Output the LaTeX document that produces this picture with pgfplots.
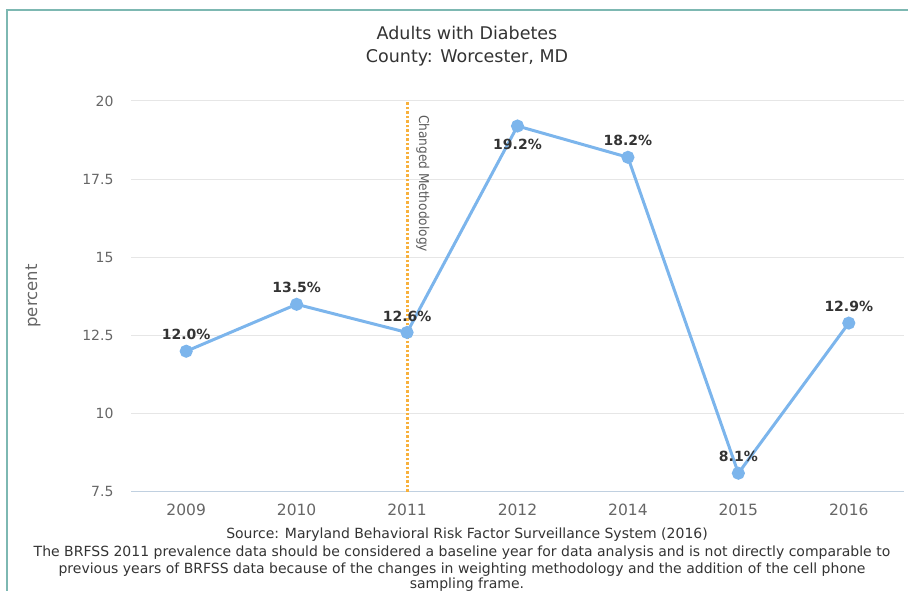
\documentclass[border=0pt]{standalone}
\usepackage{fontspec}
\setmainfont{DejaVu Sans}
\newfontfamily\condfont{DejaVu Sans Condensed}
\usepackage{pgfplots}
\pgfplotsset{compat=1.18}
\definecolor{hcblue}{HTML}{7CB5EC}
\definecolor{axisc}{HTML}{C0D0E0}
\definecolor{gridc}{HTML}{E6E6E6}
\definecolor{tickc}{HTML}{666666}
\definecolor{titlec}{HTML}{333333}
\definecolor{methc}{HTML}{F8B13C}
\definecolor{framec}{HTML}{7DB8B2}
\begin{document}
\begin{tikzpicture}[x=1pt,y=1pt]
\useasboundingbox (0,0) rectangle (908,591);
\clip (0,0) rectangle (908,591);
\draw[framec, line width=1.5pt] (7,-2) -- (7,581) -- (910,581);
\begin{axis}[
  at={(131pt,99pt)}, anchor=south west,
  scale only axis, width=773pt, height=391pt,
  xmin=-0.5, xmax=6.5, ymin=7.5, ymax=20,
  axis x line*=bottom, axis y line*=left,
  x axis line style={axisc, line width=1pt},
  y axis line style={draw=none},
  xtick={0,1,2,3,4,5,6},
  xticklabels={2009,2010,2011,2012,2014,2015,2016},
  x tick style={draw=none},
  extra x ticks={-0.5,0.5,1.5,2.5,3.5,4.5,5.5},
  extra x tick labels={},
  extra x tick style={tick align=outside, major tick length=14pt, tick style={draw=axisc, line width=1pt}},
  ytick={7.5,10,12.5,15,17.5,20},
  yticklabels={7.5,10,12.5,15,17.5,20},
  ymajorgrids, grid style={gridc, line width=1pt},
  y tick style={draw=none},
  xticklabel style={font=\fontsize{15.5}{17}\selectfont, text=tickc, yshift=-8pt},
  yticklabel style={font=\fontsize{14}{16}\selectfont, text=tickc, xshift=-14pt},
  clip=false,
]
\addplot[methc, line width=3pt, dash pattern=on 2.5pt off 2pt] coordinates {(2,7.5) (2,20)};
\addplot[hcblue, line width=3pt, mark=*, mark size=5pt, mark options={fill=hcblue, draw=hcblue}]
  coordinates {(0,12.0) (1,13.5) (2,12.6) (3,19.2) (4,18.2) (5,8.1) (6,12.9)};
\addplot[draw=none, point meta=y, nodes near coords={\pgfmathprintnumber[fixed,fixed zerofill,precision=1,assume math mode=true]{\pgfplotspointmeta}\%},
  every node near coord/.style={anchor=south, inner sep=0pt, yshift=11pt, font=\bfseries\fontsize{14}{16}\selectfont, text=titlec}]
  coordinates {(0,12.0) (1,13.5) (2,12.6) (4,18.2) (5,8.1) (6,12.9)};
\addplot[draw=none, point meta=y, nodes near coords={\pgfmathprintnumber[fixed,fixed zerofill,precision=1,assume math mode=true]{\pgfplotspointmeta}\%},
  every node near coord/.style={anchor=north, inner sep=0pt, yshift=-13pt, font=\bfseries\fontsize{14}{16}\selectfont, text=titlec}]
  coordinates {(3,19.2)};
\node[xshift=9pt, yshift=-14pt, rotate=-90, anchor=south west, inner sep=0pt, font=\condfont\fontsize{13.5}{15}\selectfont, text=titlec!80] at (axis cs:2,20) {Changed Methodology};
\end{axis}
\node[font=\fontsize{17.5}{19}\selectfont, text=titlec] at (467,558) {Adults with Diabetes};
\node[font=\fontsize{17.5}{19}\selectfont, text=titlec] at (467,533) {County: Worcester, MD};
\node[rotate=90, font=\fontsize{16.5}{18}\selectfont, text=tickc] at (33,295) {percent};
\node[font=\fontsize{14}{16}\selectfont, text=titlec] at (467,56) {Source: Maryland Behavioral Risk Factor Surveillance System (2016)};
\node[font=\fontsize{14}{16}\selectfont, text=titlec] at (462,38) {The BRFSS 2011 prevalence data should be considered a baseline year for data analysis and is not directly comparable to};
\node[font=\fontsize{14}{16}\selectfont, text=titlec] at (462,21) {previous years of BRFSS data because of the changes in weighting methodology and the addition of the cell phone};
\node[font=\fontsize{14}{16}\selectfont, text=titlec] at (467,6) {sampling frame.};
\end{tikzpicture}
\end{document}
